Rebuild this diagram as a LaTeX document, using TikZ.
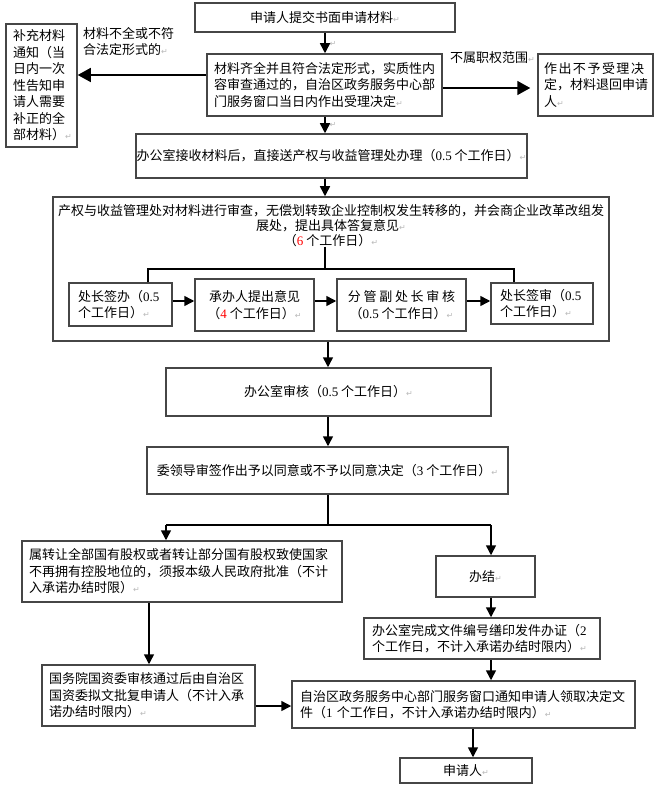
\documentclass[tikz,border=0pt]{standalone}
\usepackage{fontspec}
\setmainfont{Noto Sans CJK SC}
\newfontfamily\latf{Liberation Serif}
\newfontfamily\dvf{DejaVu Sans}
\usetikzlibrary{arrows.meta}
\definecolor{boxgray}{RGB}{70,70,70}
\newcommand\rt{{\dvf\color{gray!55}\fontsize{8pt}{8pt}\selectfont ↵}}
\newcommand\nm[1]{{\latf #1}}
\newcommand\rn[1]{{\latf\color{red}#1}}
\newcommand\cjksize{\fontsize{13pt}{16.5pt}\selectfont}
\begin{document}
\begin{tikzpicture}[x=1pt,y=-1pt,
  box/.style={draw=boxgray,line width=1.5pt,inner sep=0pt,font=\cjksize},
  lbox/.style={box,align=left},
  cbox/.style={box,align=center},
  arr/.style={line width=1.5pt,-{Triangle[length=10pt,width=10pt]}},
  bigarr/.style={line width=1.5pt,-{Triangle[length=13pt,width=14pt]}},
  ln/.style={line width=1.5pt},
  lab/.style={inner sep=0pt,font=\cjksize,align=left}]
\useasboundingbox (0,0) rectangle (658,794);
\fill[white] (0,0) rectangle (658,794);

% boxes
\node[cbox,minimum width=260pt,minimum height=29pt] (A) at (325,17.5) {申请人提交书面申请材料\rt};
\node[lbox,minimum width=235pt,minimum height=62pt,inner xsep=7pt,text width=221pt] (B) at (324.5,85)
  {材料齐全并且符合法定形式，实质性内\\容审查通过的，自治区政务服务中心部\\门服务窗口当日内作出受理决定\rt};
\node[lbox,minimum width=71pt,minimum height=123pt,inner xsep=7pt,text width=57pt] (C) at (41.5,85.5)
  {补充材料\\通知（当\\日内一次\\性告知申\\请人需要\\补正的全\\部材料）\rt};
\node[lbox,minimum width=115pt,minimum height=62pt,inner xsep=6pt,text width=103pt] (D) at (595.5,85)
  {\makebox[100pt][s]{作\hfil 出\hfil 不\hfil 予\hfil 受\hfil 理\hfil 决}\\定，材料退回申请\\人\rt};
\node[cbox,minimum width=391pt,minimum height=44pt] (E) at (331.5,156)
  {办公室接收材料后，直接送产权与收益管理处办理（\nm{0.5} 个工作日）\rt};
\node[box,minimum width=556pt,minimum height=144pt] (F) at (331,269) {};
\node[lab,align=center,font=\fontsize{13pt}{15pt}\selectfont,anchor=north] (Ft) at (331,204)
  {产权与收益管理处对材料进行审查，无偿划转致企业控制权发生转移的，并会商企业改革改组发\\展处，提出具体答复意见\rt\\（\rn{6} 个工作日）\rt};
\node[lbox,minimum width=103pt,minimum height=43pt,inner xsep=9pt,text width=85pt] (G1) at (120.5,304.5)
  {处长签办（\nm{0.5}\\个工作日）\rt};
\node[cbox,minimum width=119pt,minimum height=52pt] (G2) at (254.5,305)
  {承办人提出意见\\（\rn{4} 个工作日）\rt};
\node[cbox,minimum width=129pt,minimum height=52pt] (G3) at (401.5,305)
  {分\hspace{2.7pt}管\hspace{2.7pt}副\hspace{2.7pt}处\hspace{2.7pt}长\hspace{2.7pt}审\hspace{2.7pt}核\\（\nm{0.5} 个工作日）\rt};
\node[lbox,minimum width=102pt,minimum height=41pt,inner xsep=9pt,text width=84pt] (G4) at (542,303.5)
  {处长签审（\nm{0.5}\\个工作日）\rt};
\node[cbox,minimum width=325pt,minimum height=48pt] (H) at (328.5,392)
  {办公室审核（\nm{0.5} 个工作日）\rt};
\node[cbox,minimum width=361pt,minimum height=47pt] (I) at (327.5,470.5)
  {委领导审签作出予以同意或不予以同意决定（\nm{3} 个工作日）\rt};
\node[lbox,minimum width=320pt,minimum height=61pt,inner xsep=7pt,text width=306pt] (J) at (182,571.5)
  {属转让全部国有股权或者转让部分国有股权致使国家\\不再拥有控股地位的，须报本级人民政府批准（不计\\入承诺办结时限）\rt};
\node[cbox,minimum width=99pt,minimum height=41pt] (K) at (485.5,576.5) {办结\rt};
\node[lbox,minimum width=236pt,minimum height=41pt,inner xsep=8pt,text width=220pt] (K2) at (482,638.5)
  {办公室完成文件编号缮印发件办证（\nm{2}\\个工作日，不计入承诺办结时限内）\rt};
\node[lbox,minimum width=213pt,minimum height=61pt,inner xsep=7pt,text width=199pt] (L) at (148.5,695.5)
  {国务院国资委审核通过后由自治区\\国资委拟文批复申请人（不计入承\\诺办结时限内）\rt};
\node[lbox,minimum width=343pt,minimum height=47pt,inner xsep=8pt,text width=327pt] (M) at (463.5,704.5)
  {自治区政务服务中心部门服务窗口通知申请人领取决定文\\件（\nm{1} 个工作日，不计入承诺办结时限内）\rt};
\node[cbox,minimum width=132pt,minimum height=25pt] (N) at (466,770.5) {申请人\rt};

% labels
\node[lab,anchor=north west] (l1) at (83,27) {材料不全或不符\\合法定形式的\rt};
\node[lab,anchor=north west] (l2) at (450,51) {不属职权范围\rt};
\node[inner sep=0pt] (r1) at (333,44) {\rt};
\node[inner sep=0pt] (r2) at (333,125) {\rt};

% helper coordinates
\coordinate (cx) at (325,0);
\coordinate (cx2) at (328,0);
\coordinate (yBC) at (0,75);
\coordinate (yBD) at (0,88);
\coordinate (fj) at (325,269);
\coordinate (fl) at (148,269);
\coordinate (fr) at (514,269);
\coordinate (yG) at (0,301);
\coordinate (sm) at (328,525);
\coordinate (sl) at (166,525);
\coordinate (sr) at (491,525);
\coordinate (jl) at (149,0);
\coordinate (ylm) at (0,706);
\coordinate (mn) at (473,0);

% connectors
\draw[arr] (A.south -| cx) -- (B.north -| cx);
\draw[bigarr] (B.west |- yBC) -- (C.east |- yBC);
\draw[bigarr,shorten >=7pt] (B.east |- yBD) -- (D.west |- yBD);
\draw[arr] (B.south -| cx) -- (E.north -| cx);
\draw[arr] (E.south -| cx) -- (F.north -| cx);
\draw[ln] (Ft.south -| fj) -- (fj);
\draw[ln] (G1.north -| fl) -- (fl) -- (fr) -- (G4.north -| fr);
\draw[arr] (G1.east |- yG) -- (G2.west |- yG);
\draw[arr] (G2.east |- yG) -- (G3.west |- yG);
\draw[arr] (G3.east |- yG) -- (G4.west |- yG);
\draw[arr] (F.south -| cx2) -- (H.north -| cx2);
\draw[arr] (H.south -| cx2) -- (I.north -| cx2);
\draw[ln] (I.south -| sm) -- (sm);
\draw[ln] (sl) -- (sr);
\draw[arr] (sl) -- (J.north -| sl);
\draw[arr] (sr) -- (K.north -| sr);
\draw[arr] (K.south -| sr) -- (K2.north -| sr);
\draw[arr] (J.south -| jl) -- (L.north -| jl);
\draw[arr] (K2.south -| sr) -- (M.north -| sr);
\draw[arr] (L.east |- ylm) -- (M.west |- ylm);
\draw[arr] (M.south -| mn) -- (N.north -| mn);
\end{tikzpicture}
\end{document}
